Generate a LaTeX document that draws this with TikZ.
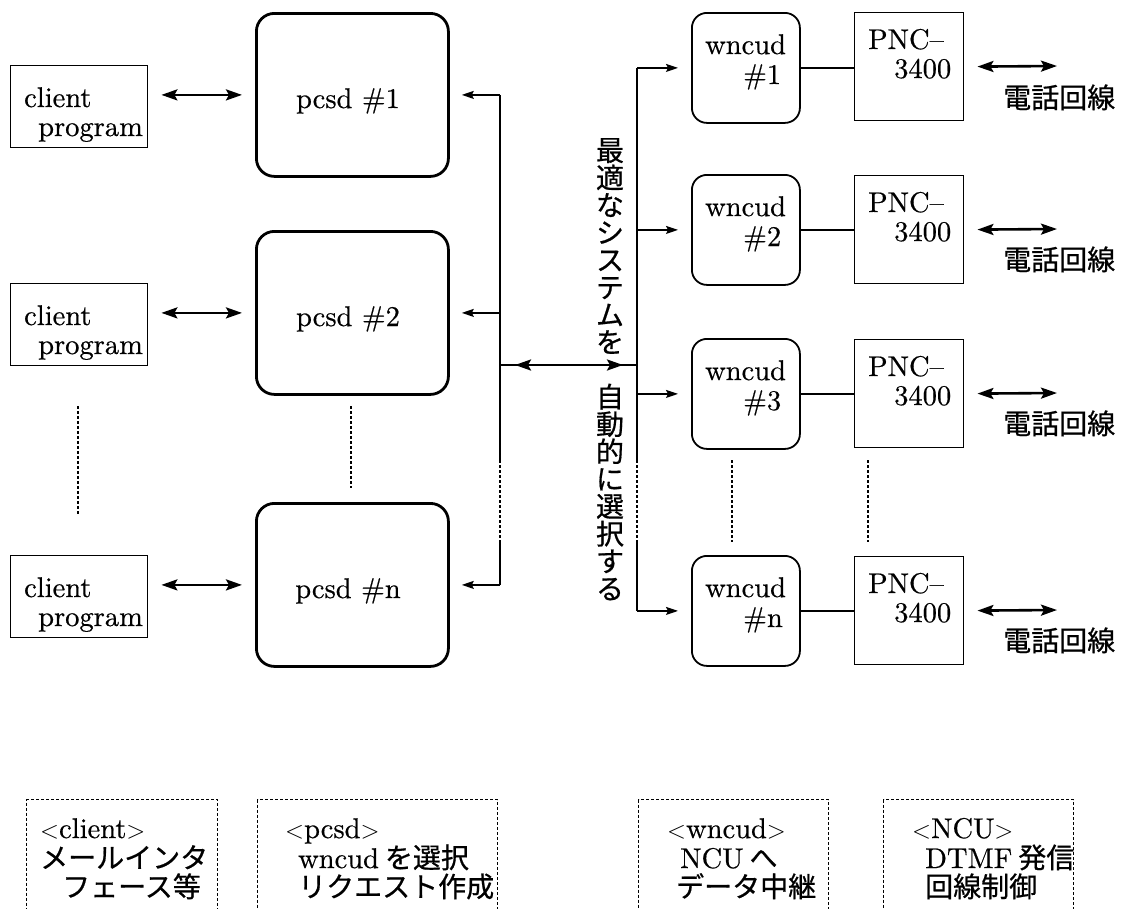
\documentclass[tikz,border=0pt]{standalone}
\usepackage{fontspec}
\setmainfont{lmroman10-regular.otf}[FakeBold=0.5]
\newfontfamily\jp{Noto Sans CJK JP}[FakeBold=0.6]
\usetikzlibrary{arrows.meta}
\newcommand\rmsz{\fontsize{28.5}{30}\selectfont}
\newcommand\jpsz{\jp\fontsize{28}{27.4}\selectfont}
\begin{document}
\begin{tikzpicture}[x=1pt,y=-1pt]
\useasboundingbox (0,0) rectangle (1124,908);
\tikzset{
  lbl/.style={inner sep=0pt, font=\rmsz, anchor=base west},
  jlbl/.style={inner sep=0pt, font=\jpsz, anchor=base west},
  vjp/.style={inner sep=0pt, font=\jpsz, align=center},
  cbox/.style={draw, line width=1.4pt, inner sep=0pt, minimum width=137pt, minimum height=82pt, anchor=north west},
  pbox/.style={draw, line width=2.8pt, rounded corners=18pt, inner sep=0pt, minimum width=192pt, minimum height=163pt, anchor=north west},
  wbox/.style={draw, line width=1.8pt, rounded corners=15pt, inner sep=0pt, minimum width=108pt, minimum height=110pt, anchor=north west},
  nbox/.style={draw, line width=1.4pt, inner sep=0pt, minimum width=109pt, minimum height=108pt, anchor=north west},
  legbox/.style={draw, line width=1.2pt, dash pattern=on 3pt off 2pt, inner sep=0pt, minimum height=140pt, anchor=north west},
  dotline/.style={line width=1.2pt, dash pattern=on 3pt off 2pt},
  bus/.style={line width=1.4pt},
  thinarr/.style={line width=1.4pt, -{Stealth[length=12pt,width=8pt,inset=2pt]}},
  dblarr/.style={line width=2.6pt, {Stealth[length=16pt,width=11pt,inset=3pt]}-{Stealth[length=16pt,width=11pt,inset=3pt]}},
  link/.style={line width=2.6pt},
}
% client boxes
\node[cbox] (client1) at (10,65) {};
\node[cbox] (client2) at (10,283) {};
\node[cbox] (client3) at (10,555) {};
\node[lbl] (c1a) at (24,107) {client};
\node[lbl] (c1b) at (38,136) {program};
\node[lbl] (c2a) at (24,325) {client};
\node[lbl] (c2b) at (38,354) {program};
\node[lbl] (c3a) at (24,597) {client};
\node[lbl] (c3b) at (38,626) {program};
% pcsd boxes
\node[pbox] (pcsd1) at (255,12) {};
\node[pbox] (pcsd2) at (255,230) {};
\node[pbox] (pcsdn) at (255,502) {};
\node[lbl, anchor=base] (p1) at (348,108) {pcsd \#1};
\node[lbl, anchor=base] (p2) at (348,326) {pcsd \#2};
\node[lbl, anchor=base] (pn) at (348,598) {pcsd \#n};
% wncud boxes
\node[wbox] (wncud1) at (691,12) {};
\node[wbox] (wncud2) at (691,174) {};
\node[wbox] (wncud3) at (691,338) {};
\node[wbox] (wncudn) at (691,555) {};
\node[lbl] (w1a) at (705,54) {wncud};
\node[lbl] (w1b) at (743,84) {\#1};
\node[lbl] (w2a) at (705,216) {wncud};
\node[lbl] (w2b) at (743,246) {\#2};
\node[lbl] (w3a) at (705,380) {wncud};
\node[lbl] (w3b) at (743,410) {\#3};
\node[lbl] (wna) at (705,597) {wncud};
\node[lbl] (wnb) at (743,627) {\#n};
% PNC boxes
\node[nbox] (pnc1) at (854,12) {};
\node[nbox] (pnc2) at (854,175) {};
\node[nbox] (pnc3) at (854,339) {};
\node[nbox] (pncn) at (854,556) {};
\node[lbl] (n1a) at (868,49) {PNC–};
\node[lbl] (n1b) at (894,78) {3400};
\node[lbl] (n2a) at (868,212) {PNC–};
\node[lbl] (n2b) at (894,241) {3400};
\node[lbl] (n3a) at (868,376) {PNC–};
\node[lbl] (n3b) at (894,405) {3400};
\node[lbl] (nna) at (868,593) {PNC–};
\node[lbl] (nnb) at (894,622) {3400};
% telephone lines
\node[jlbl] (tl1) at (1003,108) {電話回線};
\node[jlbl] (tl2) at (1003,270) {電話回線};
\node[jlbl] (tl3) at (1003,434) {電話回線};
\node[jlbl] (tln) at (1003,651) {電話回線};
\coordinate (te1) at (1057,66);
\coordinate (te2) at (1057,229);
\coordinate (te3) at (1057,393);
\coordinate (ten) at (1057,610);
% vertical text
\node[vjp] (v1) at (610,246) {最\\適\\な\\シ\\ス\\テ\\ム\\を};
\node[vjp] (v2) at (610,492) {自\\動\\的\\に\\選\\択\\す\\る};
% buses
\coordinate (busL) at (500,0);
\coordinate (busR) at (637,0);
\coordinate (lg1) at (500,460);
\coordinate (lg2) at (500,543);
\coordinate (rg1) at (637,460);
\coordinate (rg2) at (637,543);
\draw[bus] (pcsd1.east -| busL) -- (lg1);
\draw[dotline] (lg1) -- (lg2);
\draw[bus] (lg2) -- (pcsdn.east -| busL);
\draw[bus] (wncud1.west -| busR) -- (rg1);
\draw[dotline] (rg1) -- (rg2);
\draw[bus] (rg2) -- (wncudn.west -| busR);
\coordinate (h1) at (500,365);
\coordinate (h2) at (637,365);
\draw[bus] (h1) -- (h2);
\draw[dblarr, shorten <=15pt, shorten >=14pt] (h1) -- (h2);
% client <-> pcsd
\draw[dblarr, shorten <=13pt, shorten >=13pt] (client1.east |- pcsd1.west) -- (pcsd1.west);
\draw[dblarr, shorten <=13pt, shorten >=13pt] (client2.east |- pcsd2.west) -- (pcsd2.west);
\draw[dblarr, shorten <=13pt, shorten >=13pt] (client3.east |- pcsdn.west) -- (pcsdn.west);
% bus -> pcsd
\draw[thinarr, shorten >=12pt] (pcsd1.east -| busL) -- (pcsd1.east);
\draw[thinarr, shorten >=12pt] (pcsd2.east -| busL) -- (pcsd2.east);
\draw[thinarr, shorten >=12pt] (pcsdn.east -| busL) -- (pcsdn.east);
% bus -> wncud
\draw[thinarr, shorten >=13pt] (wncud1.west -| busR) -- (wncud1.west);
\draw[thinarr, shorten >=13pt] (wncud2.west -| busR) -- (wncud2.west);
\draw[thinarr, shorten >=13pt] (wncud3.west -| busR) -- (wncud3.west);
\draw[thinarr, shorten >=13pt] (wncudn.west -| busR) -- (wncudn.west);
% wncud -- PNC
\draw[link] (wncud1.east) -- (wncud1.east -| pnc1.west);
\draw[link] (wncud2.east) -- (wncud2.east -| pnc2.west);
\draw[link] (wncud3.east) -- (wncud3.east -| pnc3.west);
\draw[link] (wncudn.east) -- (wncudn.east -| pncn.west);
% PNC <-> line
\draw[dblarr, shorten <=13pt] (pnc1.east) -- (te1);
\draw[dblarr, shorten <=13pt] (pnc2.east) -- (te2);
\draw[dblarr, shorten <=13pt] (pnc3.east) -- (te3);
\draw[dblarr, shorten <=13pt] (pncn.east) -- (ten);
% dotted continuation lines
\coordinate (d1a) at (78,406); \coordinate (d1b) at (78,515);
\coordinate (d2a) at (351,406); \coordinate (d2b) at (351,488);
\coordinate (d3a) at (732,460); \coordinate (d3b) at (732,542);
\coordinate (d4a) at (868,460); \coordinate (d4b) at (868,542);
\draw[dotline] (d1a) -- (d1b);
\draw[dotline] (d2a) -- (d2b);
\draw[dotline] (d3a) -- (d3b);
\draw[dotline] (d4a) -- (d4b);
% legend boxes
\node[legbox, minimum width=191pt] (leg1) at (26,799) {};
\node[legbox, minimum width=240pt] (leg2) at (257,799) {};
\node[legbox, minimum width=190pt] (leg3) at (638,799) {};
\node[legbox, minimum width=190pt] (leg4) at (883,799) {};
\node[lbl] (l1a) at (40,838) {$<$client$>$};
\node[jlbl] (l1b) at (40,868) {メールインタ};
\node[jlbl] (l1c) at (62,897) {フェース等};
\node[lbl] (l2a) at (285,838) {$<$pcsd$>$};
\node[lbl] (l2b) at (298,868) {wncud\hspace{6pt}{\jpsz を選択}};
\node[jlbl] (l2c) at (298,897) {リクエスト作成};
\node[lbl] (l3a) at (667,838) {$<$wncud$>$};
\node[lbl] (l3b) at (680,868) {NCU\hspace{6pt}{\jpsz へ}};
\node[jlbl] (l3c) at (676,897) {データ中継};
\node[lbl] (l4a) at (912,838) {$<$NCU$>$};
\node[lbl] (l4b) at (925,868) {DTMF\hspace{6pt}{\jpsz 発信}};
\node[jlbl] (l4c) at (925,897) {回線制御};
\end{tikzpicture}
\end{document}
